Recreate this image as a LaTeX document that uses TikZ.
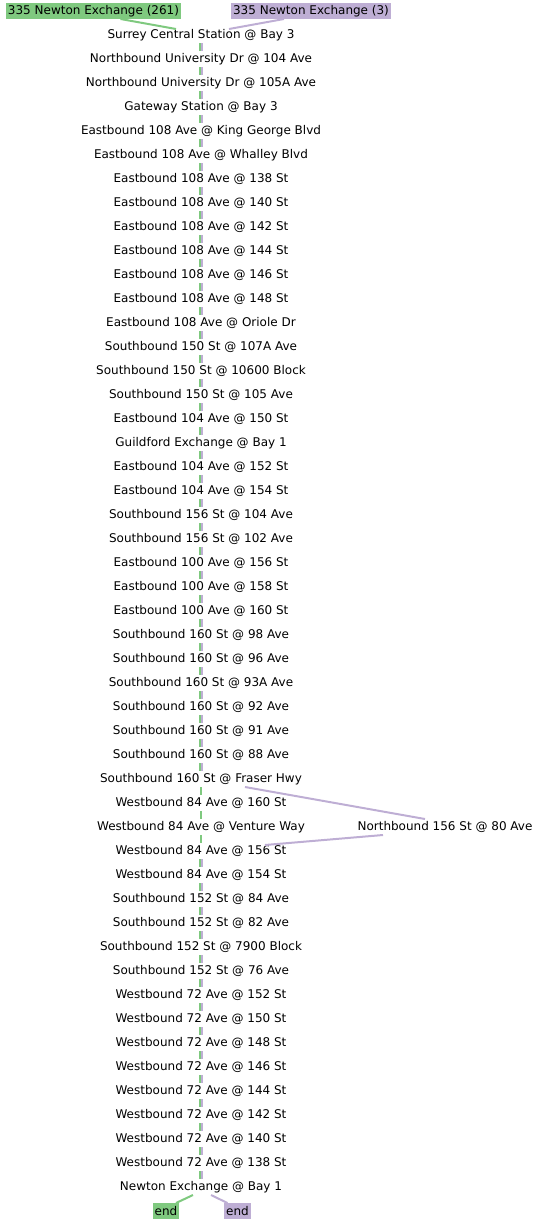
\documentclass[tikz,border=0pt]{standalone}
\usepackage{fontspec}
\setmainfont{DejaVu Sans}
\usetikzlibrary{positioning}
\definecolor{greenline}{HTML}{7FC97F}
\definecolor{purpleline}{HTML}{BEAED4}

\begin{document}
\begin{tikzpicture}[
  x=1pt, y=1pt,
  node distance=8pt,
  stop/.style={inner sep=0pt, outer sep=0pt, minimum height=16pt, font=\fontsize{12}{14}\selectfont},
  tag/.style={inner xsep=2pt, inner ysep=0pt, outer sep=0pt, minimum height=16pt, font=\fontsize{12}{14}\selectfont},
  gl/.style={draw=greenline, line width=2pt},
  pl/.style={draw=purpleline, line width=2pt}
]
\useasboundingbox (0,0) rectangle (542,-1224);
% route start and end labels
\node[tag, fill=greenline] (g0) at (93.5,-11) {335 Newton Exchange (261)};
\node[tag, fill=purpleline] (p0) at (311,-11) {335 Newton Exchange (3)};
\node[tag, fill=greenline] (gend) at (166,-1211) {end};
\node[tag, fill=purpleline] (pend) at (237.5,-1211) {end};
% stops
\node[stop] (s1) at (201,-35) {Surrey Central Station @ Bay 3};
\node[stop, below=of s1] (s2) {Northbound University Dr @ 104 Ave};
\node[stop, below=of s2] (s3) {Northbound University Dr @ 105A Ave};
\node[stop, below=of s3] (s4) {Gateway Station @ Bay 3};
\node[stop, below=of s4] (s5) {Eastbound 108 Ave @ King George Blvd};
\node[stop, below=of s5] (s6) {Eastbound 108 Ave @ Whalley Blvd};
\node[stop, below=of s6] (s7) {Eastbound 108 Ave @ 138 St};
\node[stop, below=of s7] (s8) {Eastbound 108 Ave @ 140 St};
\node[stop, below=of s8] (s9) {Eastbound 108 Ave @ 142 St};
\node[stop, below=of s9] (s10) {Eastbound 108 Ave @ 144 St};
\node[stop, below=of s10] (s11) {Eastbound 108 Ave @ 146 St};
\node[stop, below=of s11] (s12) {Eastbound 108 Ave @ 148 St};
\node[stop, below=of s12] (s13) {Eastbound 108 Ave @ Oriole Dr};
\node[stop, below=of s13] (s14) {Southbound 150 St @ 107A Ave};
\node[stop, below=of s14] (s15) {Southbound 150 St @ 10600 Block};
\node[stop, below=of s15] (s16) {Southbound 150 St @ 105 Ave};
\node[stop, below=of s16] (s17) {Eastbound 104 Ave @ 150 St};
\node[stop, below=of s17] (s18) {Guildford Exchange @ Bay 1};
\node[stop, below=of s18] (s19) {Eastbound 104 Ave @ 152 St};
\node[stop, below=of s19] (s20) {Eastbound 104 Ave @ 154 St};
\node[stop, below=of s20] (s21) {Southbound 156 St @ 104 Ave};
\node[stop, below=of s21] (s22) {Southbound 156 St @ 102 Ave};
\node[stop, below=of s22] (s23) {Eastbound 100 Ave @ 156 St};
\node[stop, below=of s23] (s24) {Eastbound 100 Ave @ 158 St};
\node[stop, below=of s24] (s25) {Eastbound 100 Ave @ 160 St};
\node[stop, below=of s25] (s26) {Southbound 160 St @ 98 Ave};
\node[stop, below=of s26] (s27) {Southbound 160 St @ 96 Ave};
\node[stop, below=of s27] (s28) {Southbound 160 St @ 93A Ave};
\node[stop, below=of s28] (s29) {Southbound 160 St @ 92 Ave};
\node[stop, below=of s29] (s30) {Southbound 160 St @ 91 Ave};
\node[stop, below=of s30] (s31) {Southbound 160 St @ 88 Ave};
\node[stop, below=of s31] (s32) {Southbound 160 St @ Fraser Hwy};
\node[stop, below=of s32] (s33) {Westbound 84 Ave @ 160 St};
\node[stop, below=of s33] (s34) {Westbound 84 Ave @ Venture Way};
\node[stop, below=of s34] (s35) {Westbound 84 Ave @ 156 St};
\node[stop, below=of s35] (s36) {Westbound 84 Ave @ 154 St};
\node[stop, below=of s36] (s37) {Southbound 152 St @ 84 Ave};
\node[stop, below=of s37] (s38) {Southbound 152 St @ 82 Ave};
\node[stop, below=of s38] (s39) {Southbound 152 St @ 7900 Block};
\node[stop, below=of s39] (s40) {Southbound 152 St @ 76 Ave};
\node[stop, below=of s40] (s41) {Westbound 72 Ave @ 152 St};
\node[stop, below=of s41] (s42) {Westbound 72 Ave @ 150 St};
\node[stop, below=of s42] (s43) {Westbound 72 Ave @ 148 St};
\node[stop, below=of s43] (s44) {Westbound 72 Ave @ 146 St};
\node[stop, below=of s44] (s45) {Westbound 72 Ave @ 144 St};
\node[stop, below=of s45] (s46) {Westbound 72 Ave @ 142 St};
\node[stop, below=of s46] (s47) {Westbound 72 Ave @ 140 St};
\node[stop, below=of s47] (s48) {Westbound 72 Ave @ 138 St};
\node[stop, below=of s48] (s49) {Newton Exchange @ Bay 1};
\node[stop] (nb) at (445,-827) {Northbound 156 St @ 80 Ave};
% both routes side by side
\foreach \i [count=\j from 2] in {1,...,31} {
  \draw[gl] ([xshift=-1pt]s\i.south) -- ([xshift=-1pt]s\j.north);
  \draw[pl] ([xshift=1pt]s\i.south) -- ([xshift=1pt]s\j.north);
}
\foreach \i [count=\j from 36] in {35,...,48} {
  \draw[gl] ([xshift=-1pt]s\i.south) -- ([xshift=-1pt]s\j.north);
  \draw[pl] ([xshift=1pt]s\i.south) -- ([xshift=1pt]s\j.north);
}
% green only through 84 Ave
\foreach \i [count=\j from 33] in {32,33,34} {
  \draw[gl] (s\i.south) -- (s\j.north);
}
% purple detour
\draw[pl] ([xshift=44pt]s32.south) -- ([xshift=-20pt]nb.north);
\draw[pl] ([xshift=-62pt]nb.south) -- ([xshift=64pt,yshift=-2pt]s35.north);
% ends
\draw[gl] ([xshift=27pt]g0.south) -- ([xshift=-25pt,yshift=-2pt]s1.north);
\draw[pl] ([xshift=-27pt]p0.south) -- ([xshift=28pt,yshift=-2pt]s1.north);
\draw[gl] ([xshift=-8pt]s49.south) -- ([xshift=10pt]gend.north);
\draw[pl] ([xshift=10pt]s49.south) -- ([xshift=-10pt]pend.north);
\end{tikzpicture}
\end{document}
